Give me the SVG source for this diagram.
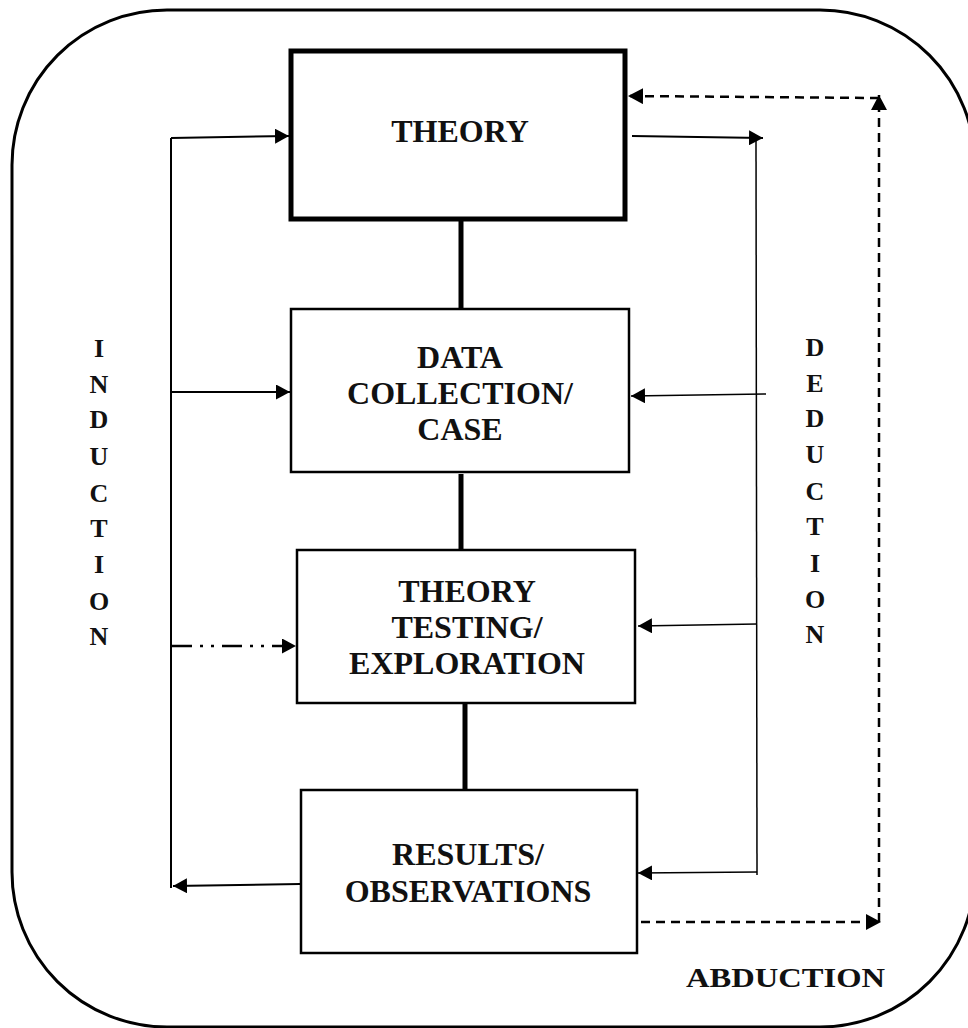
<svg xmlns="http://www.w3.org/2000/svg" width="968" height="1028" viewBox="0 0 968 1028">
  <style>
    .box { fill: #fff; stroke: #000; stroke-width: 2.5; }
    .thick { stroke-width: 5; }
    .lbl { font-family: "Liberation Serif", "Times New Roman", serif; font-weight: bold; font-size: 32px; text-anchor: middle; fill: #111; }
    .vert { font-family: "Liberation Serif", "Times New Roman", serif; font-weight: bold; font-size: 26px; text-anchor: middle; fill: #111; }
    .link { stroke: #000; stroke-width: 5; fill: none; }
    .ind { stroke: #000; stroke-width: 2; fill: none; }
    .ded { stroke: #000; stroke-width: 1.5; fill: none; }
    .abd { stroke: #000; stroke-width: 2.5; fill: none; stroke-dasharray: 9 6; }
    .dashdot { stroke: #000; stroke-width: 2.5; fill: none; stroke-dasharray: 20 8 3 8 3 8; }
  </style>
  <defs>
    <marker id="arrow" markerUnits="userSpaceOnUse" markerWidth="15" markerHeight="15" refX="14" refY="7.5" orient="auto">
      <path d="M0,0 L14,7.5 L0,15 z" fill="#000"/>
    </marker>
    <marker id="arrowBig" markerUnits="userSpaceOnUse" markerWidth="16" markerHeight="16" refX="15" refY="8" orient="auto">
      <path d="M0,0 L15,8 L0,16 z" fill="#000"/>
    </marker>
  </defs>

  <rect width="968" height="1028" fill="#fff"/>

  <!-- outer frame -->
  <rect x="12" y="10" width="963" height="1017" rx="155" ry="155" fill="none" stroke="#000" stroke-width="3"/>

  <g id="connectors">
    <!-- vertical links between boxes -->
    <line class="link" x1="461" y1="221" x2="461" y2="308"/>
    <line class="link" x1="461" y1="474" x2="461" y2="549"/>
    <line class="link" x1="465" y1="704" x2="465" y2="790"/>

    <!-- induction -->
    <line class="ind" x1="300" y1="884" x2="173" y2="886" marker-end="url(#arrow)"/>
    <line class="ind" x1="171" y1="138" x2="171" y2="888"/>
    <line class="ind" x1="171" y1="138" x2="289" y2="136" marker-end="url(#arrow)"/>
    <line class="ind" x1="171" y1="392" x2="290" y2="392" marker-end="url(#arrow)"/>
    <line class="dashdot" x1="172" y1="646" x2="296" y2="646" marker-end="url(#arrow)"/>

    <!-- deduction -->
    <line class="ind" x1="632" y1="136" x2="763" y2="138" marker-end="url(#arrow)"/>
    <line class="ded" x1="756" y1="138" x2="757" y2="875"/>
    <line class="ded" x1="766" y1="394" x2="631" y2="396" marker-end="url(#arrow)"/>
    <line class="ded" x1="757" y1="624" x2="638" y2="626" marker-end="url(#arrow)"/>
    <line class="ded" x1="757" y1="872" x2="638" y2="873" marker-end="url(#arrow)"/>

    <!-- abduction -->
    <line class="abd" x1="641" y1="922" x2="881" y2="922" marker-end="url(#arrowBig)"/>
    <line class="abd" x1="879" y1="922" x2="879" y2="95" marker-end="url(#arrowBig)"/>
    <line class="abd" x1="879" y1="98" x2="628" y2="96" marker-end="url(#arrowBig)"/>
  </g>

  <g id="theory">
    <rect class="box thick" x="291" y="51" width="334" height="168"/>
    <text class="lbl" x="460" y="142">THEORY</text>
  </g>

  <g id="data-collection">
    <rect class="box" x="291" y="309" width="338" height="163"/>
    <text class="lbl" x="460" y="368">DATA</text>
    <text class="lbl" x="460" y="404">COLLECTION/</text>
    <text class="lbl" x="460" y="440">CASE</text>
  </g>

  <g id="theory-testing">
    <rect class="box" x="297" y="550" width="338" height="153"/>
    <text class="lbl" x="467" y="602">THEORY</text>
    <text class="lbl" x="467" y="638">TESTING/</text>
    <text class="lbl" x="467" y="674">EXPLORATION</text>
  </g>

  <g id="results">
    <rect class="box" x="301" y="790" width="336" height="163"/>
    <text class="lbl" x="468" y="865">RESULTS/</text>
    <text class="lbl" x="468" y="902">OBSERVATIONS</text>
  </g>

  <g id="induction-label">
    <text class="vert" x="99" y="357">I</text>
    <text class="vert" x="99" y="393">N</text>
    <text class="vert" x="99" y="428">D</text>
    <text class="vert" x="99" y="465">U</text>
    <text class="vert" x="99" y="502">C</text>
    <text class="vert" x="99" y="537">T</text>
    <text class="vert" x="99" y="573">I</text>
    <text class="vert" x="99" y="610">O</text>
    <text class="vert" x="99" y="645">N</text>
  </g>

  <g id="deduction-label">
    <text class="vert" x="815" y="356">D</text>
    <text class="vert" x="815" y="392">E</text>
    <text class="vert" x="815" y="427">D</text>
    <text class="vert" x="815" y="463">U</text>
    <text class="vert" x="815" y="500">C</text>
    <text class="vert" x="815" y="535">T</text>
    <text class="vert" x="815" y="572">I</text>
    <text class="vert" x="815" y="608">O</text>
    <text class="vert" x="815" y="643">N</text>
  </g>

  <g id="abduction-label">
    <text class="vert" x="686" y="987" style="text-anchor:start;font-size:27px" textLength="199" lengthAdjust="spacingAndGlyphs">ABDUCTION</text>
  </g>
</svg>
